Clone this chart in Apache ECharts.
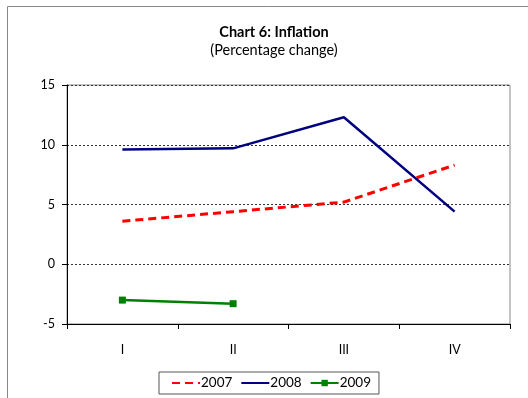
<!DOCTYPE html>
<html>
<head>
<meta charset="utf-8">
<script src="https://cdn.jsdelivr.net/npm/echarts@6/dist/echarts.min.js"></script>
<style>
  html, body { margin: 0; padding: 0; background: #fff; }
  #chart { width: 528px; height: 398px; }
</style>
</head>
<body>
<div id="chart"></div>
<script>
// quarters and yearly inflation values
const quarters = ['I', 'II', 'III', 'IV'];
const y2007 = [3.6, 4.4, 5.2, 8.3];
const y2008 = [9.6, 9.7, 12.3, 4.4];
const y2009 = [-3.0, -3.3, null, null];

const font = 'Lato, "Open Sans", sans-serif';

const myChart = echarts.init(document.getElementById('chart'));
const option = {
  animation: false,
  backgroundColor: '#fff',
  textStyle: { fontFamily: font, color: '#000' },
  graphic: [{
    type: 'rect',
    shape: { x: 7.5, y: 6.5, width: 600, height: 500 },
    style: { fill: 'none', stroke: '#888', lineWidth: 1 },
    silent: true
  }],
  title: {
    text: 'Chart 6: Inflation',
    subtext: '(Percentage change)',
    left: 269,
    top: 20,
    textAlign: 'center',
    itemGap: 3,
    textStyle: { fontFamily: font, fontSize: 14.5, fontWeight: 'bold', color: '#000' },
    subtextStyle: { fontFamily: font, fontSize: 14.5, color: '#000' }
  },
  grid: {
    left: 67, right: 18, top: 85, bottom: 74,
    show: true, borderColor: '#888', borderWidth: 1
  },
  legend: {
    data: [
      { name: '2007', itemStyle: { opacity: 0 } },
      { name: '2008', itemStyle: { opacity: 0 } },
      { name: '2009' }
    ],
    left: 159,
    top: 372,
    padding: [4, 8, 4, 12],
    borderColor: '#555',
    borderWidth: 1,
    itemGap: 8,
    itemWidth: 28,
    itemHeight: 8,
    textStyle: { fontFamily: font, fontSize: 13.5, color: '#000', padding: [0, 0, 0, -4] }
  },
  xAxis: {
    type: 'category',
    data: quarters,
    boundaryGap: true,
    axisLine: { onZero: false, lineStyle: { color: '#000', width: 1 } },
    axisTick: { show: true, length: 5, lineStyle: { color: '#000' } },
    axisLabel: { fontFamily: font, fontSize: 12.5, color: '#000', margin: 19 },
    splitLine: { show: false }
  },
  yAxis: {
    type: 'value',
    min: -5,
    max: 15,
    interval: 5,
    axisLine: { show: true, lineStyle: { color: '#000', width: 1 } },
    axisTick: { show: true, length: 5, lineStyle: { color: '#000' } },
    axisLabel: { fontFamily: font, fontSize: 12.5, color: '#000', margin: 12 },
    splitLine: { show: true, lineStyle: { color: '#333', type: [2, 2], width: 1 } }
  },
  series: [{
    name: '2007',
    type: 'line',
    data: y2007,
    symbol: 'none',
    lineStyle: { color: '#ff0000', width: 3, type: [8, 5] },
    itemStyle: { color: '#ff0000' }
  }, {
    name: '2008',
    type: 'line',
    data: y2008,
    symbol: 'none',
    lineStyle: { color: '#000080', width: 2.5 },
    itemStyle: { color: '#000080' }
  }, {
    name: '2009',
    type: 'line',
    data: y2009,
    symbol: 'rect',
    symbolSize: 7,
    showAllSymbol: true,
    lineStyle: { color: '#008000', width: 2.5 },
    itemStyle: { color: '#008000' }
  }]
};
myChart.setOption(option);
</script>
</body>
</html>
